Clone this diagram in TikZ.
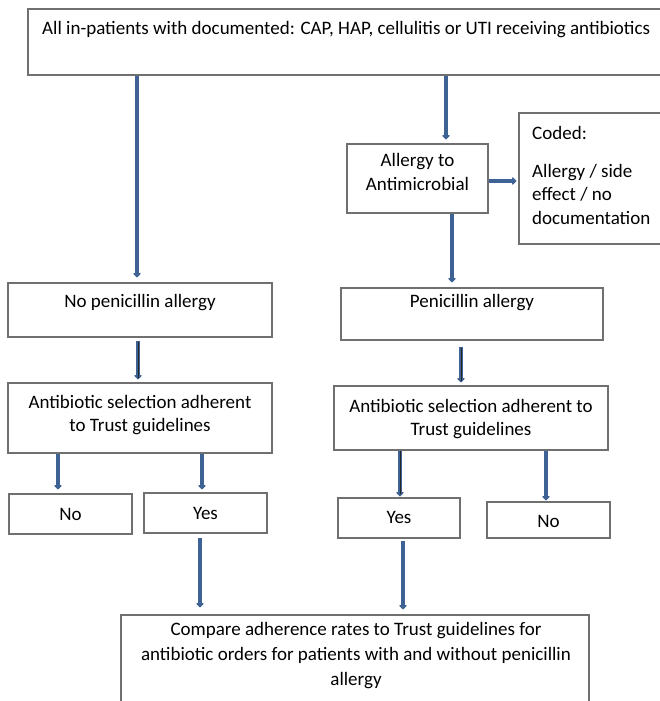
\documentclass[tikz,border=0pt]{standalone}
\usepackage{fontspec}
\setmainfont{Carlito}
\usetikzlibrary{arrows.meta}
\definecolor{arrblue}{RGB}{62,98,147}
\definecolor{boxgray}{RGB}{112,112,112}
\tikzset{
  box/.style={draw=boxgray, line width=1.2pt, fill=white, rectangle, inner sep=0pt},
  txt/.style={inner sep=0pt, font=\fontsize{19}{23.5}\selectfont, align=center},
  arr/.style={draw=arrblue, line width=4.8pt, -{Triangle[width=8.5pt,length=4.5pt,round]}},
  inner/.style={draw=black!85, line width=0.9pt},
}
\begin{document}
\begin{tikzpicture}[x=1pt,y=-1pt]
\useasboundingbox (0,0) rectangle (660,701);
\clip (0,0) rectangle (660,701);
% boxes
\node[box, minimum width=677, minimum height=66] (top) at (366.5,42) {};
\node[box, minimum width=141, minimum height=69] (allergy) at (417.5,178.5) {};
\node[box, minimum width=181, minimum height=131] (coded) at (609.5,178.5) {};
\node[box, minimum width=264, minimum height=54] (nopen) at (140,310) {};
\node[box, minimum width=262, minimum height=52] (pen) at (472,314) {};
\node[box, minimum width=264, minimum height=70] (abL) at (140,418) {};
\node[box, minimum width=274, minimum height=64] (abR) at (471,418) {};
\node[box, minimum width=123, minimum height=40] (noL) at (70.5,514) {};
\node[box, minimum width=123, minimum height=40] (yesL) at (205.5,513) {};
\node[box, minimum width=122, minimum height=40] (yesR) at (399,518) {};
\node[box, minimum width=123, minimum height=36] (noR) at (548.5,520) {};
\node[box, minimum width=468, minimum height=105] (bottom) at (355,667.5) {};
% texts
\node[txt, anchor=west] (ttop) at (42,30) {All in-patients with documented: CAP, HAP, cellulitis or UTI receiving antibiotics};
\node[txt] (tallergy) at (417.5,172) {Allergy to\\Antimicrobial};
\node[txt, anchor=west] (tcoded1) at (532,133) {Coded:};
\node[txt, anchor=west, align=left] (tcoded2) at (532,194) {Allergy / side\\effect / no\\documentation};
\node[txt] (tnopen) at (140,303) {No penicillin allergy};
\node[txt] (tpen) at (472,303) {Penicillin allergy};
\node[txt] (tabL) at (140,415) {Antibiotic selection adherent\\to Trust guidelines};
\node[txt] (tabR) at (471,419) {Antibiotic selection adherent to\\Trust guidelines};
\node[txt] (tnoL) at (70.5,514) {No};
\node[txt] (tyesL) at (205.5,513) {Yes};
\node[txt] (tyesR) at (399,517) {Yes};
\node[txt] (tnoR) at (548.5,521) {No};
\node[txt, font=\fontsize{19}{25}\selectfont] (tbottom) at (356,656) {Compare adherence rates to Trust guidelines for\\antibiotic orders for patients with and without penicillin\\allergy};
% connectors
\draw[arr] (top.south -| 137,0) -- ([yshift=5pt]nopen.north -| 137,0);
\draw[arr] (top.south -| 446,0) -- ([yshift=4pt]allergy.north -| 446,0);
\draw[arr] (allergy.east |- 0,181) -- ([xshift=-2pt]coded.west |- 0,181);
\draw[arr] (allergy.south -| 452,0) -- ([yshift=5pt]pen.north -| 452,0);
\draw[arr] ([yshift=-3pt]nopen.south -| 138,0) -- ([yshift=3pt]abL.north -| 138,0);
\draw[inner] ([yshift=-4pt]nopen.south -| 138,0) -- ([yshift=4pt]abL.north -| 138,0);
\draw[arr] ([yshift=-6pt]pen.south -| 461,0) -- ([yshift=3pt]abR.north -| 461,0);
\draw[inner] ([yshift=-7pt]pen.south -| 461,0) -- ([yshift=4pt]abR.north -| 461,0);
\draw[arr] (abL.south -| 58,0) -- ([yshift=4pt]noL.north -| 58,0);
\draw[arr] (abL.south -| 202,0) -- ([yshift=3pt]yesL.north -| 202,0);
\draw[arr] (abR.south -| 400,0) -- ([yshift=1pt]yesR.north -| 400,0);
\draw[inner] (abR.south -| 400,0) -- ([yshift=3pt]yesR.north -| 400,0);
\draw[arr] (abR.south -| 546,0) -- ([yshift=1pt]noR.north -| 546,0);
\draw[arr] ([yshift=-4pt]yesL.south -| 200,0) -- ([yshift=7pt]bottom.north -| 200,0);
\draw[arr] ([yshift=-2pt]yesR.south -| 403,0) -- ([yshift=5pt]bottom.north -| 403,0);
\end{tikzpicture}
\end{document}
